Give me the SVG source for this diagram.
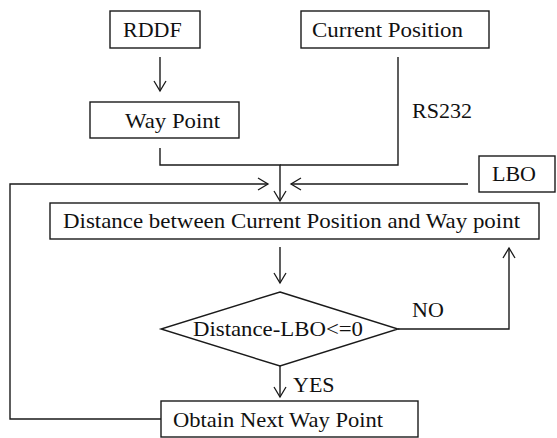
<svg xmlns="http://www.w3.org/2000/svg" width="557" height="438" viewBox="0 0 557 438">
<defs>
<marker id="arr" markerWidth="14" markerHeight="14" refX="11" refY="7" orient="auto" markerUnits="userSpaceOnUse">
<path d="M1,1 L11,7 L1,13" fill="none" stroke="#1a1a1a" stroke-width="1.3"/>
</marker>
<style>
.box{fill:#fff;stroke:#1a1a1a;stroke-width:1.4}
.ln{fill:none;stroke:#1a1a1a;stroke-width:1.4}
.t{font-family:"Liberation Serif","Times New Roman",serif;font-size:22px;fill:#111}
</style>
</defs>
<rect width="557" height="438" fill="#fff"/>
<g id="connectors">
<path class="ln" d="M160,57 V91" marker-end="url(#arr)"/>
<path class="ln" d="M160,148 V165 H280 V201" marker-end="url(#arr)"/>
<path class="ln" d="M398,57 V165 H280"/>
<path class="ln" d="M468,184 H291" marker-end="url(#arr)"/>
<path class="ln" d="M161,419 H10 V184 H268" marker-end="url(#arr)"/>
<path class="ln" d="M280,247 V283" marker-end="url(#arr)"/>
<path class="ln" d="M398,329 H509 V248" marker-end="url(#arr)"/>
<path class="ln" d="M280,366 V397" marker-end="url(#arr)"/>
<text class="t" x="412" y="118" textLength="60" lengthAdjust="spacingAndGlyphs">RS232</text>
<text class="t" x="412" y="317">NO</text>
<text class="t" x="293" y="392">YES</text>
</g>
<g id="rddf">
<rect class="box" x="110" y="11" width="90" height="37"/>
<text class="t" x="123" y="37">RDDF</text>
</g>
<g id="waypoint">
<rect class="box" x="90" y="102" width="149" height="36"/>
<text class="t" x="125" y="128" textLength="95" lengthAdjust="spacingAndGlyphs">Way Point</text>
</g>
<g id="currentposition">
<rect class="box" x="301" y="11" width="188" height="37"/>
<text class="t" x="312" y="37" textLength="151" lengthAdjust="spacingAndGlyphs">Current Position</text>
</g>
<g id="lbo">
<rect class="box" x="479" y="156" width="76" height="36"/>
<text class="t" x="492" y="181">LBO</text>
</g>
<g id="distance">
<rect class="box" x="50" y="203" width="489" height="36"/>
<text class="t" x="63" y="228" textLength="457" lengthAdjust="spacingAndGlyphs">Distance between Current Position and Way point</text>
</g>
<g id="decision">
<polygon class="box" points="280,292 398,329 280,366 161,329"/>
<text class="t" x="193" y="336" textLength="170" lengthAdjust="spacingAndGlyphs">Distance-LBO&lt;=0</text>
</g>
<g id="obtain">
<rect class="box" x="161" y="401" width="257" height="36"/>
<text class="t" x="173" y="427" textLength="210" lengthAdjust="spacingAndGlyphs">Obtain Next Way Point</text>
</g>
</svg>
